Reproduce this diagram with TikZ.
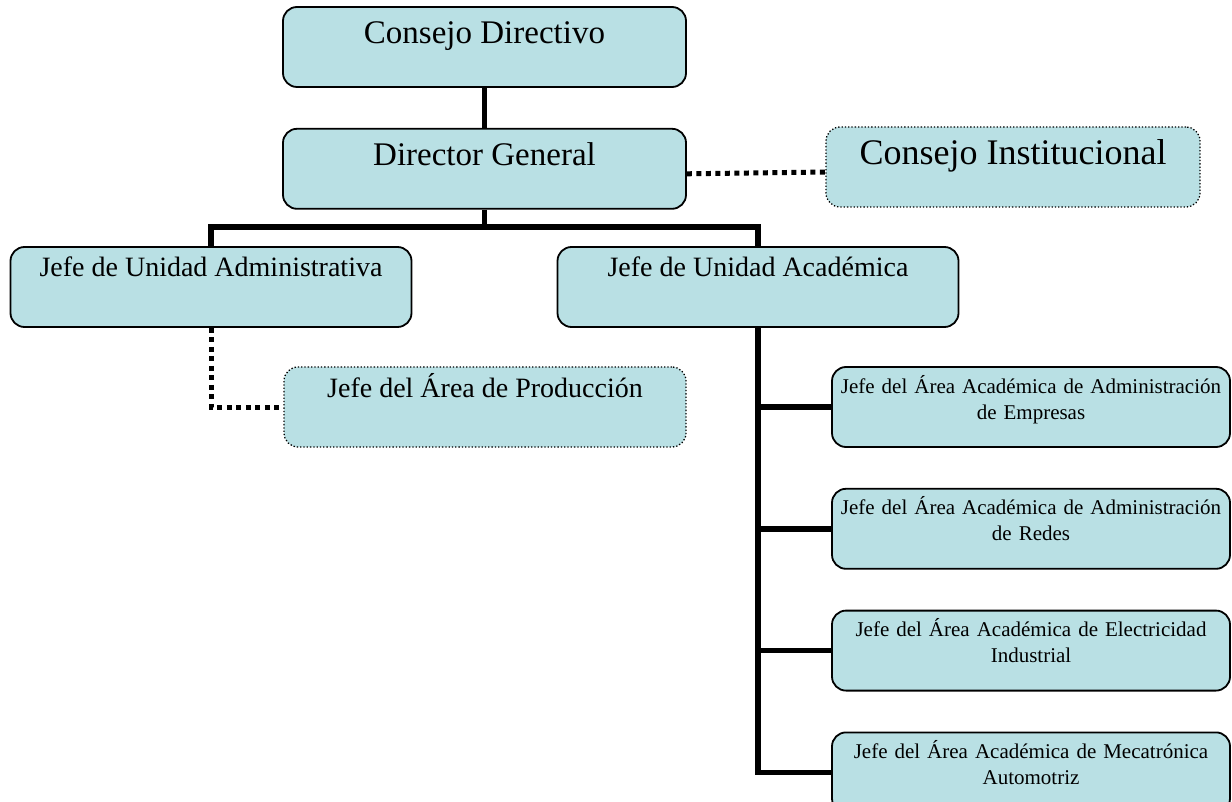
\documentclass[tikz,border=0pt]{standalone}
\usepackage{fontspec}
\setmainfont{Liberation Serif}
\usepackage{tikz}
\usetikzlibrary{positioning}

\definecolor{boxfill}{HTML}{B9E0E4}

\tikzset{
  unit/.style={draw=black, line width=1.8pt, rounded corners=14pt, fill=boxfill,
    inner sep=0pt, align=center},
  staff/.style={unit, line width=1.3pt, dotted},
  bigbox/.style={minimum width=403pt, text height=37pt, text depth=43pt,
    font=\fontsize{33}{40}\selectfont},
  midbox/.style={minimum width=401pt, text height=30pt, text depth=50pt,
    font=\fontsize{28}{34}\selectfont},
  areabox/.style={text width=398pt, text height=26pt, text depth=54pt,
    font=\fontsize{21}{26}\selectfont},
  link/.style={line width=5.5pt},
  dotlink/.style={line width=5pt, dash pattern=on 5pt off 4.5pt},
}

\begin{document}
\begin{tikzpicture}[x=1pt, y=-1pt, node distance=40pt]
\useasboundingbox (0,0) rectangle (1232,802);

% upper levels
\node[unit, bigbox] (cd) at (484.5,47) {Consejo Directivo};
\node[unit, bigbox, below=of cd] (dg) {Director General};
\node[staff, bigbox, minimum width=374pt, text height=38pt, text depth=42pt,
  font=\fontsize{36}{42}\selectfont] (ci) at (1013,167) {Consejo Institucional};

% units
\node[unit, midbox] (jua) at (211,287) {Jefe de Unidad Administrativa};
\node[unit, midbox] (jac) at (758,287) {Jefe de Unidad Académica};
\node[staff, midbox, minimum width=402pt] (jap) at (485,407) {Jefe del Área de Producción};

% academic areas
\node[unit, areabox] (aa1) at (1031,407) {Jefe del Área Académica de Administración\\de Empresas};
\node[unit, areabox, below=of aa1] (aa2) {Jefe del Área Académica de Administración\\de Redes};
\node[unit, areabox, below=of aa2] (aa3) {Jefe del Área Académica de Electricidad\\Industrial};
\node[unit, areabox, below=of aa3] (aa4) {Jefe del Área Académica de Mecatrónica\\Automotriz};

% connectors
\coordinate (split) at (484.5,227);
\draw[link] (cd) -- (dg);
\draw[link] (dg) -- (split);
\draw[link] (jua.north) |- (split) -| (jac.north);
\draw[dotlink] ([yshift=-5pt]dg.east) -- ([yshift=-5pt]ci.west);
\draw[dotlink] (jua.south) |- (jap.west);
\draw[link] (jac.south) |- (aa4.west);
\foreach \a in {aa1,aa2,aa3}
  \draw[link] (jac.south |- \a.west) -- (\a.west);
\end{tikzpicture}
\end{document}
